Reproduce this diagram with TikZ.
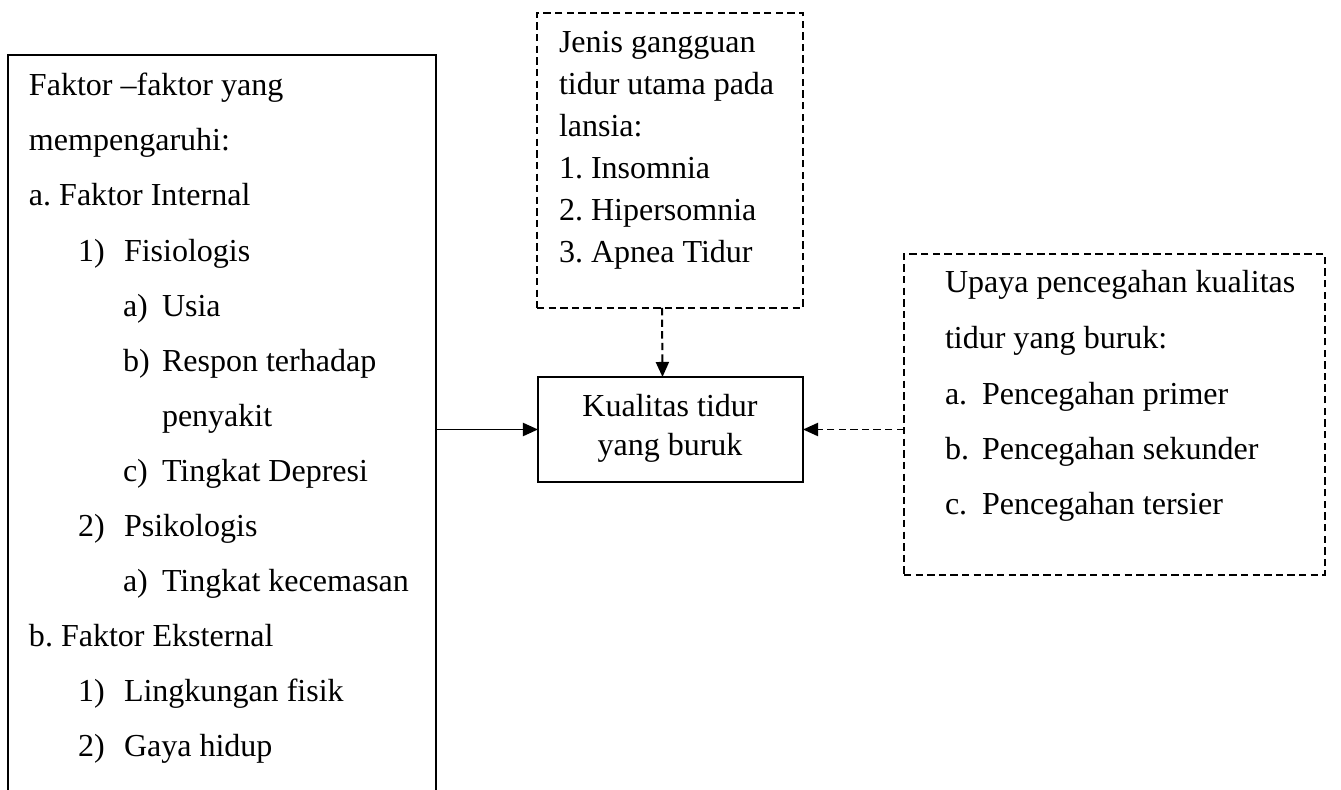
\documentclass[tikz,border=0pt]{standalone}
\usepackage{fontspec}
\setmainfont{Liberation Serif}
\usetikzlibrary{arrows.meta,calc,fit}
\frenchspacing
\begin{document}
\begin{tikzpicture}[x=0.3529pt,y=-0.3529pt,
  box/.style={draw,line width=0.7pt,inner sep=0pt,outer sep=0pt},
  dbox/.style={box,dash pattern=on 2.6pt off 1.5pt},
  txt/.style={anchor=base west,inner sep=0pt,outer sep=0pt,font=\fontsize{11.3pt}{14pt}\selectfont},
  ctxt/.style={txt,anchor=base},
  arr/.style={line width=0.7pt,-{Triangle[length=5.3pt,width=4.6pt]}},
  darr/.style={arr,dash pattern=on 2.6pt off 1.5pt}]
\clip (0,0) rectangle (1341,790);
\fill[white] (0,0) rectangle (1341,790);
% boxes
\node (L) [box,fit={(8,55) (436,820)}] {};
\node (T) [dbox,fit={(537,13) (803,308)}] {};
\node (C) [box,fit={(538,377) (803,482)}] {};
\node (R) [dbox,fit={(904,254) (1325,575)}] {};
% connectors
\draw[arr] (L.east |- C.west) -- (C.west);
\draw[darr] (R.west |- C.east) -- (C.east);
\draw[darr] ($(T.south)+(-8,0)$) -- ($(C.north)+(-8,0)$);
% left box text
\node (l1) [txt] at (29,96) {Faktor –faktor yang};
\node (l2) [txt] at (29,151) {mempengaruhi:};
\node (l3) [txt] at (29,206) {a. Faktor Internal};
\node (l4n) [txt] at (78,262) {1)};
\node (l4) [txt] at (124,262) {Fisiologis};
\node (l5n) [txt] at (123,317) {a)};
\node (l5) [txt] at (162,317) {Usia};
\node (l6n) [txt] at (123,372) {b)};
\node (l6) [txt] at (162,372) {Respon terhadap};
\node (l7) [txt] at (162,427) {penyakit};
\node (l8n) [txt] at (123,482) {c)};
\node (l8) [txt] at (162,482) {Tingkat Depresi};
\node (l9n) [txt] at (78,537) {2)};
\node (l9) [txt] at (124,537) {Psikologis};
\node (l10n) [txt] at (123,592) {a)};
\node (l10) [txt] at (162,592) {Tingkat kecemasan};
\node (l11) [txt] at (29,647) {b. Faktor Eksternal};
\node (l12n) [txt] at (78,702) {1)};
\node (l12) [txt] at (124,702) {Lingkungan fisik};
\node (l13n) [txt] at (78,757) {2)};
\node (l13) [txt] at (124,757) {Gaya hidup};
% top box text
\node (t1) [txt] at (559,53) {Jenis gangguan};
\node (t2) [txt] at (559,95) {tidur utama pada};
\node (t3) [txt] at (559,137) {lansia:};
\node (t4) [txt] at (559,179) {1. Insomnia};
\node (t5) [txt] at (559,221) {2. Hipersomnia};
\node (t6) [txt] at (559,263) {3. Apnea Tidur};
% center text
\node (c1) [ctxt] at (670,417) {Kualitas tidur};
\node (c2) [ctxt] at (670,456) {yang buruk};
% right box text
\node (r1) [txt] at (945,293) {Upaya pencegahan kualitas};
\node (r2) [txt] at (945,349) {tidur yang buruk:};
\node (r3n) [txt] at (945,405) {a.};
\node (r3) [txt] at (982,405) {Pencegahan primer};
\node (r4n) [txt] at (945,460) {b.};
\node (r4) [txt] at (982,460) {Pencegahan sekunder};
\node (r5n) [txt] at (945,515) {c.};
\node (r5) [txt] at (982,515) {Pencegahan tersier};
\end{tikzpicture}
\end{document}
